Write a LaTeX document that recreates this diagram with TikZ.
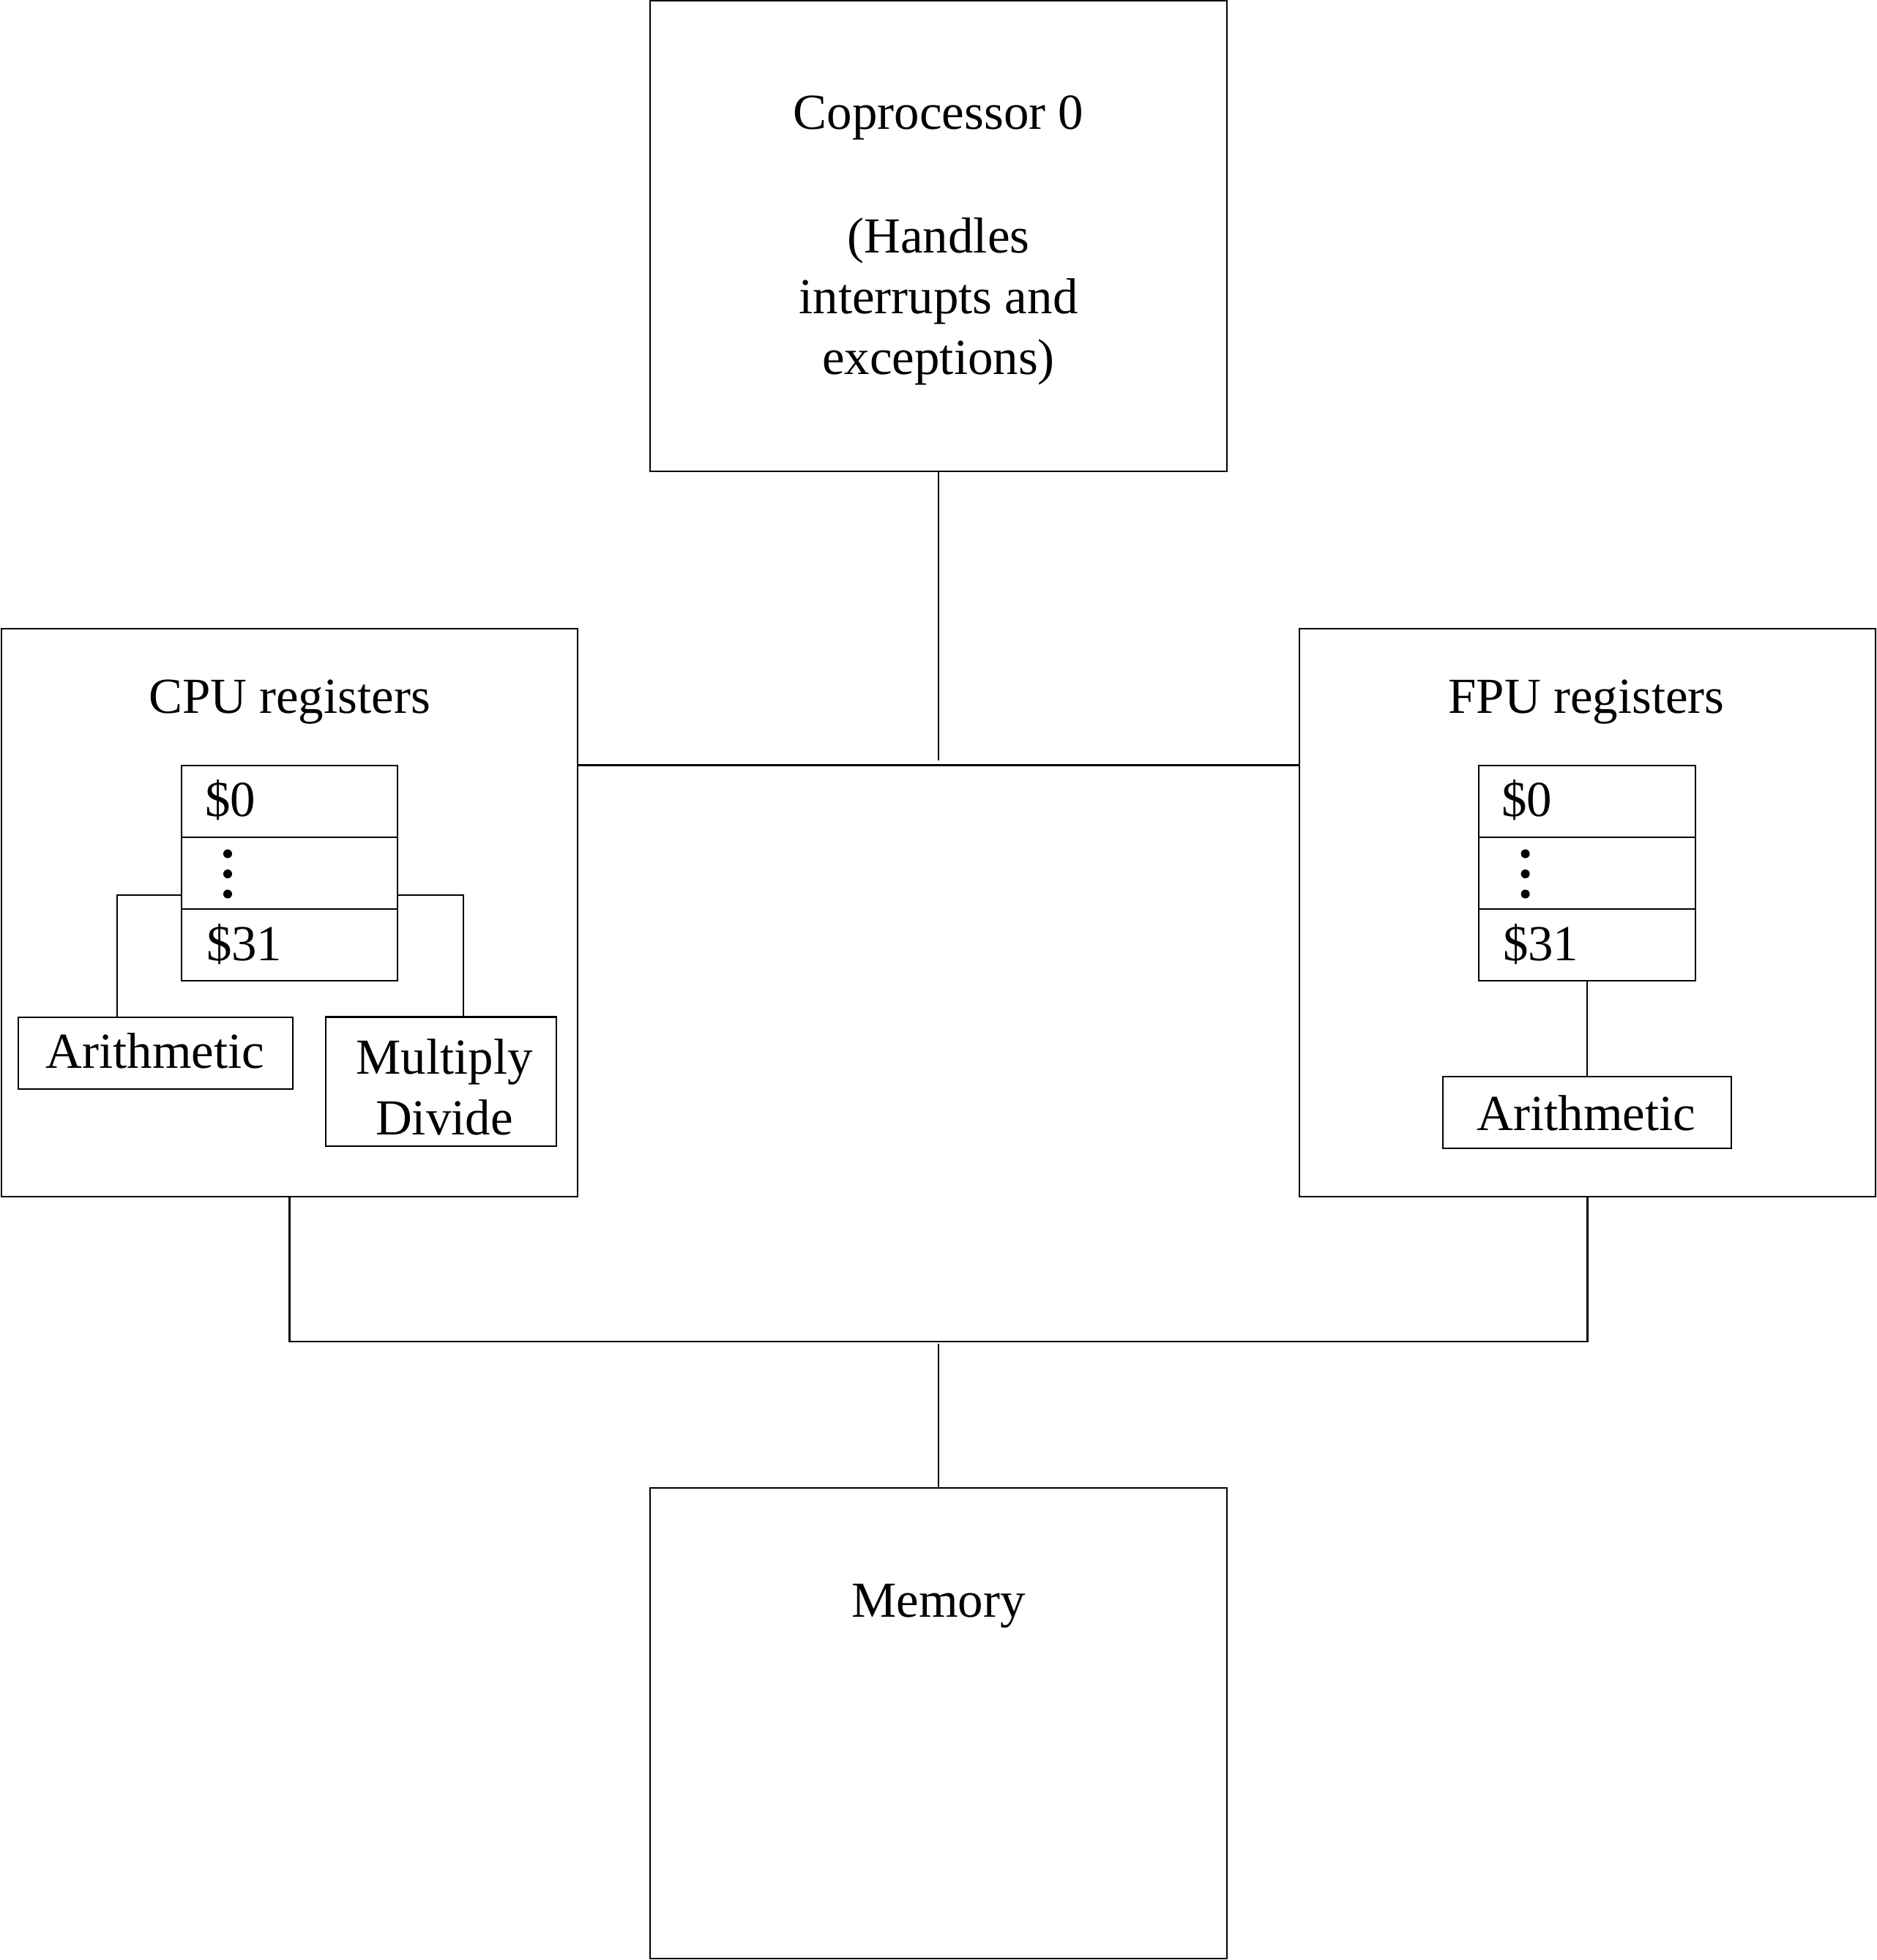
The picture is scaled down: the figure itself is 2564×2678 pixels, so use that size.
\documentclass[tikz,border=0pt]{standalone}
\usepackage{fontspec}
\setmainfont{Liberation Serif}
\newcommand\diagsz{\fontsize{19.6pt}{23.6pt}\selectfont}
\begin{document}
\begin{tikzpicture}[x=0.01cm,y=-0.01cm,
  box/.style={draw, rectangle, line width=0.6pt, inner sep=0pt, outer sep=0pt},
  txt/.style={inner sep=0pt, outer sep=0pt, anchor=base, font=\diagsz},
  ltxt/.style={inner sep=0pt, outer sep=0pt, anchor=base west, font=\diagsz},
  wire/.style={line width=0.6pt},
  dotmark/.style={fill=black, draw=none}]
\useasboundingbox (0,0) rectangle (2564,2678);

% main boxes
\node[box, minimum width=7.88cm, minimum height=6.425cm] (cop) at (1282,322.75) {};
\node[box, minimum width=7.87cm, minimum height=7.76cm] (cpu) at (395.5,1247) {};
\node[box, minimum width=7.87cm, minimum height=7.76cm] (fpu) at (2168.5,1247) {};
\node[box, minimum width=7.88cm, minimum height=6.43cm] (mem) at (1282,2354.5) {};

% main texts
\node[txt] (coptA) at (1282,176) {Coprocessor 0};
\node[txt] (coptB) at (1282,345) {(Handles};
\node[txt] (coptC) at (1282,428) {interrupts and};
\node[txt] (coptD) at (1282,511) {exceptions)};
\node[txt] (memt) at (1282,2209) {Memory};
\node[txt] (cput) at (395.5,974) {CPU registers};
\node[txt] (fput) at (2167,974) {FPU registers};

% CPU register stack
\node[box, minimum width=2.95cm, minimum height=0.98cm] (cr0) at (395.5,1095) {};
\node[box, minimum width=2.95cm, minimum height=0.98cm] (crd) at (395.5,1193) {};
\node[box, minimum width=2.95cm, minimum height=0.98cm] (cr31) at (395.5,1291) {};
\node[ltxt] (cr0t) at (280,1115.5) {\$0};
\node[ltxt] (cr31t) at (282,1312) {\$31};
\fill[dotmark] (311,1166.5) circle[radius=0.06cm];
\fill[dotmark] (311,1194) circle[radius=0.06cm];
\fill[dotmark] (311,1221.5) circle[radius=0.06cm];

% CPU units
\node[box, minimum width=3.745cm, minimum height=0.98cm] (carith) at (212.75,1439) {};
\node[txt] (carith t) at (212,1459) {Arithmetic};
\node[box, minimum width=3.15cm, minimum height=1.765cm] (cmul) at (602.5,1477.75) {};
\node[txt] (cmulA) at (607,1467.5) {Multiply};
\node[txt] (cmulB) at (607,1550) {Divide};

% FPU register stack
\node[box, minimum width=2.95cm, minimum height=0.98cm] (fr0) at (2168,1095) {};
\node[box, minimum width=2.95cm, minimum height=0.98cm] (frd) at (2168,1193) {};
\node[box, minimum width=2.95cm, minimum height=0.98cm] (fr31) at (2168,1291) {};
\node[ltxt] (fr0t) at (2051,1115.5) {\$0};
\node[ltxt] (fr31t) at (2053,1312) {\$31};
\fill[dotmark] (2083.6,1166.5) circle[radius=0.06cm];
\fill[dotmark] (2083.6,1194) circle[radius=0.06cm];
\fill[dotmark] (2083.6,1221.5) circle[radius=0.06cm];

% FPU unit
\node[box, minimum width=3.94cm, minimum height=0.984cm] (farith) at (2168,1519.8) {};
\node[txt] (farith t) at (2167,1544) {Arithmetic};

% connector coordinates
\coordinate (copend) at (1282,1039);
\coordinate (midy) at (0,1045.5);
\coordinate (busy) at (0,1833);
\coordinate (memtop) at (1282,1836);
\coordinate (regy) at (0,1223);
\coordinate (cleftx) at (160,0);
\coordinate (crightx) at (632.6,0);

% connectors
\draw[wire] (cop.south) -- (copend);
\draw[wire] (cpu.east |- midy) -- (fpu.west |- midy);
\draw[wire] (cpu.south) -- (cpu.south |- busy) -- (fpu.south |- busy) -- (fpu.south);
\draw[wire] (memtop) -- (mem.north);
\draw[wire] (crd.west |- regy) -- (cleftx |- regy) -- (cleftx |- carith.north);
\draw[wire] (crd.east |- regy) -- (crightx |- regy) -- (crightx |- cmul.north);
\draw[wire] (fr31.south) -- (fr31.south |- farith.north);
\end{tikzpicture}
\end{document}
